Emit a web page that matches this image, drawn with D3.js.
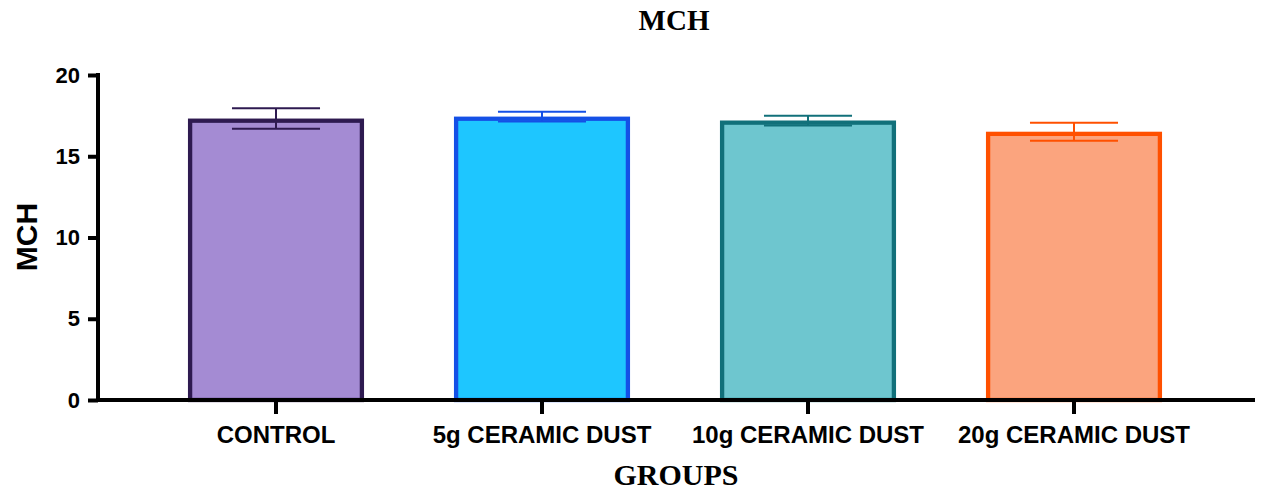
<!DOCTYPE html>
<html>
<head>
<meta charset="utf-8">
<script src="https://cdn.jsdelivr.net/npm/d3@7"></script>
<style>
  html, body { margin: 0; padding: 0; background: #fff; }
  svg { display: block; }
</style>
</head>
<body>
<svg id="chart" width="1262" height="491"></svg>
<script>
// ---- data ----
const categories = ["CONTROL", "5g CERAMIC DUST", "10g CERAMIC DUST", "20g CERAMIC DUST"];
const means = [17.32, 17.44, 17.2, 16.51];
const errors = [0.63, 0.3, 0.3, 0.55];
const yTicks = [0, 5, 10, 15, 20];
const fills = ["#a48bd3", "#1ec6ff", "#6ec6cf", "#fba47e"];
const strokes = ["#2e1a50", "#1450e6", "#11707a", "#ff5000"];
const title = "MCH";
const yLabel = "MCH";
const xLabel = "GROUPS";

// ---- layout ----
const svg = d3.select("#chart");
const axisX = 98, axisY = 400, axisRight = 1255;
const sw = 4.3; // bar border width (drawn inside the bar)

const x = d3.scaleBand()
  .domain(categories)
  .range([143, 1207])
  .paddingInner(0.338)
  .paddingOuter(0.169);

const y = d3.scaleLinear().domain([0, 20]).range([400, 75]);

const data = categories.map((c, i) => ({ c, m: means[i], e: errors[i], f: fills[i], s: strokes[i] }));

// bars (stroke inset)
svg.append("g").selectAll("rect").data(data).join("rect")
  .attr("x", d => x(d.c) + sw / 2)
  .attr("y", d => y(d.m) + sw / 2)
  .attr("width", x.bandwidth() - sw)
  .attr("height", d => y(0) - y(d.m) - sw / 2)
  .attr("fill", d => d.f)
  .attr("stroke", d => d.s)
  .attr("stroke-width", sw);

// error bars
const capHalf = x.bandwidth() / 4;
const cx = d => x(d.c) + x.bandwidth() / 2;
const eb = svg.append("g").selectAll("g").data(data).join("g")
  .attr("stroke", d => d.s)
  .attr("stroke-width", 2);
eb.append("line")
  .attr("x1", cx).attr("x2", cx)
  .attr("y1", d => y(d.m + d.e))
  .attr("y2", d => y(d.m - d.e));
eb.append("line")
  .attr("x1", d => cx(d) - capHalf)
  .attr("x2", d => cx(d) + capHalf)
  .attr("y1", d => y(d.m + d.e))
  .attr("y2", d => y(d.m + d.e));
eb.append("line")
  .attr("x1", d => cx(d) - capHalf)
  .attr("x2", d => cx(d) + capHalf)
  .attr("y1", d => y(d.m - d.e))
  .attr("y2", d => y(d.m - d.e));

// y axis
const yAxis = svg.append("g")
  .attr("transform", `translate(${axisX},0)`)
  .call(d3.axisLeft(y).tickValues(yTicks).tickSize(10).tickPadding(8).tickSizeOuter(0));
yAxis.select(".domain").remove();
yAxis.append("line")
  .attr("x1", 0).attr("x2", 0)
  .attr("y1", y(20) - 2).attr("y2", y(0) + 2)
  .attr("stroke", "#000").attr("stroke-width", 4);
yAxis.selectAll(".tick line").attr("stroke", "#000").attr("stroke-width", 4);
yAxis.selectAll(".tick text")
  .attr("fill", "#000")
  .style("font-family", "Liberation Sans, Arial, sans-serif")
  .style("font-weight", "bold")
  .style("font-size", "22px");

// x axis
const xAxis = svg.append("g")
  .attr("transform", `translate(0,${axisY})`)
  .call(d3.axisBottom(x).tickSize(14).tickPadding(12).tickSizeOuter(0));
xAxis.select(".domain").remove();
xAxis.append("line")
  .attr("x1", axisX - 2).attr("x2", axisRight)
  .attr("y1", 0).attr("y2", 0)
  .attr("stroke", "#000").attr("stroke-width", 4);
xAxis.selectAll(".tick line").attr("stroke", "#000").attr("stroke-width", 4);
xAxis.selectAll(".tick text")
  .attr("fill", "#000")
  .style("font-family", "Liberation Sans, Arial, sans-serif")
  .style("font-weight", "bold")
  .style("font-size", "24px");

// title
svg.append("text")
  .attr("x", 674).attr("y", 30)
  .attr("text-anchor", "middle")
  .style("font-family", "Liberation Serif, Times New Roman, serif")
  .style("font-weight", "bold")
  .style("font-size", "29px")
  .text(title);

// x label
svg.append("text")
  .attr("x", 676).attr("y", 485)
  .attr("text-anchor", "middle")
  .style("font-family", "Liberation Serif, Times New Roman, serif")
  .style("font-weight", "bold")
  .style("font-size", "30px")
  .text(xLabel);

// y label
svg.append("text")
  .attr("transform", "translate(37,237) rotate(-90)")
  .attr("text-anchor", "middle")
  .style("font-family", "Liberation Sans, Arial, sans-serif")
  .style("font-weight", "bold")
  .style("font-size", "30px")
  .text(yLabel);
</script>
</body>
</html>
